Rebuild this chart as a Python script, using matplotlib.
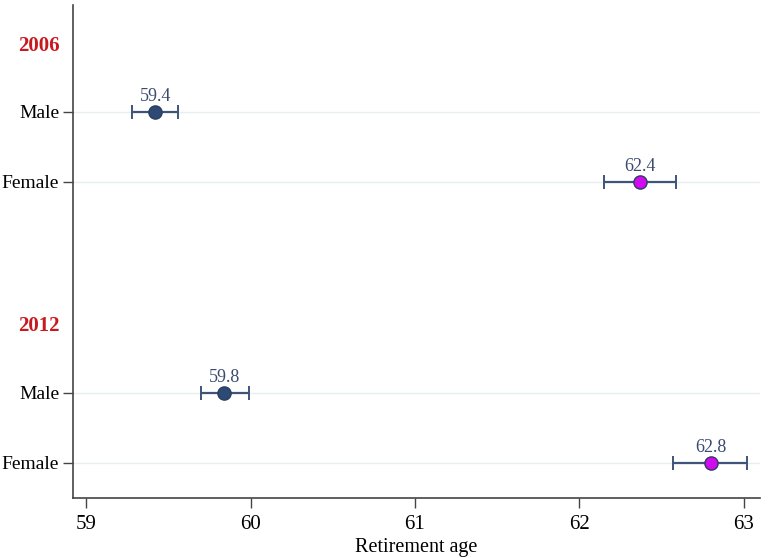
import numpy as np
import matplotlib.pyplot as plt

plt.rcParams['font.family'] = ['Liberation Serif', 'DejaVu Serif']

# ---- data ----
years = ['2006', '2012']
groups = ['Male', 'Female']
means = [59.42, 62.37, 59.84, 62.80]
lower = [59.28, 62.15, 59.70, 62.57]
upper = [59.56, 62.59, 59.99, 63.02]
value_labels = ['59.4', '62.4', '59.8', '62.8']

# row positions: year header, then Male, Female
rows = [1, 2, 5, 6]
header_rows = [0.06, 4.05]

navy = '#2c4a74'
err_col = '#3e5478'
magenta = '#d10af0'

fig = plt.figure(figsize=(7.68, 5.58), dpi=100)
ax = fig.add_axes([0.095, 0.1075, 0.895, 0.8835])

for i, (m, lo, hi, r) in enumerate(zip(means, lower, upper, rows)):
    ax.axhline(r, color='#e6eef0', lw=1, zorder=0)
    fc = navy if groups[i % 2] == 'Male' else magenta
    ax.errorbar(m, r, xerr=[[m - lo], [hi - m]], fmt='none', ecolor=err_col,
                elinewidth=1.6, capsize=5, capthick=1.4, zorder=2)
    ax.plot(m, r, 'o', ms=9.5, mfc=fc, mec='#2c3e60', mew=1, zorder=3)
    ax.text(m, r - 0.1, value_labels[i], ha='center', va='bottom',
            fontsize=13, color='#3a4a70')

ax.set_yticks(rows)
ax.set_yticklabels([groups[i % 2] for i in range(len(rows))], fontsize=14)
for yr, hr in zip(years, header_rows):
    ax.text(-0.019, hr, yr, transform=ax.get_yaxis_transform(), ha='right',
            va='center', fontsize=15, fontweight='bold', color='#c81a1e')

ax.set_ylim(6.5, -0.52)
ax.set_xlim(58.92, 63.1)
ax.set_xticks([59, 60, 61, 62, 63])
ax.tick_params(axis='x', labelsize=15, length=7, width=1, color='#444444', pad=5)
ax.tick_params(axis='y', length=7, width=1, color='#444444', pad=3)
ax.set_xlabel('Retirement age', fontsize=14.5, labelpad=3)

for s in ['top', 'right']:
    ax.spines[s].set_visible(False)
for s in ['left', 'bottom']:
    ax.spines[s].set_color('#444444')
    ax.spines[s].set_linewidth(1.2)

fig.savefig('out.png', dpi=100)
